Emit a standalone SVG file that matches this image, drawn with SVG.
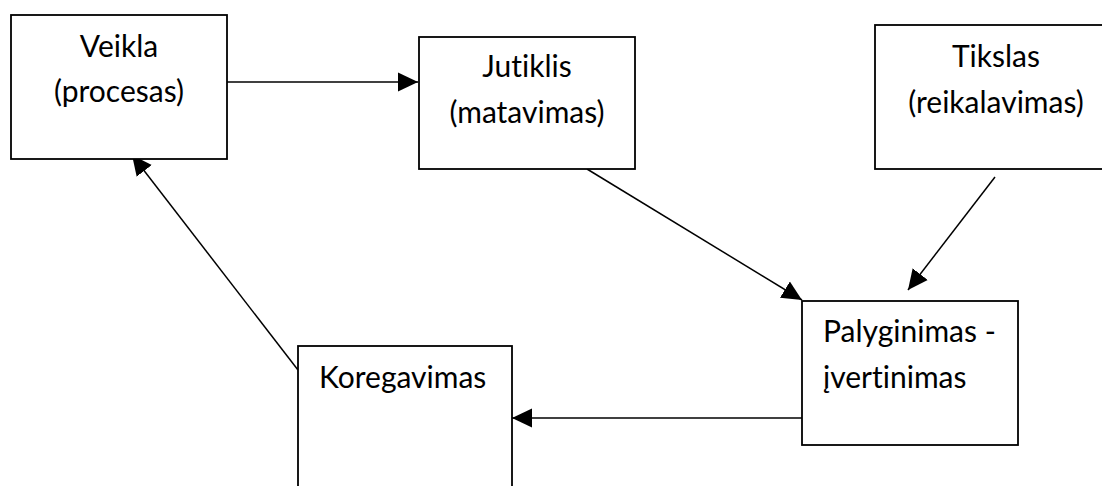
<svg xmlns="http://www.w3.org/2000/svg" width="1102" height="486" viewBox="0 0 1102 486">
  <style>
    .box { fill: #ffffff; stroke: #000000; stroke-width: 1.8; }
    .lbl { font-family: Lato, "Liberation Sans", sans-serif; font-size: 30px; fill: #000000; font-variant-ligatures: none; font-feature-settings: "liga" 0, "clig" 0; }
    .mid { text-anchor: middle; }
    .edge { stroke: #000000; stroke-width: 1.5; fill: none; marker-end: url(#head); }
  </style>
  <defs>
    <marker id="head" markerUnits="userSpaceOnUse" markerWidth="21" markerHeight="21" refX="20" refY="10" orient="auto" viewBox="0 0 21 21">
      <path d="M0,0.5 L20,10 L0,19.5 Z" fill="#000000"/>
    </marker>
  </defs>
  <rect width="1102" height="486" fill="#ffffff"/>

  <g id="connectors">
    <line class="edge" x1="227" y1="82" x2="418" y2="82"/>
    <line class="edge" x1="587" y1="169" x2="802" y2="300"/>
    <line class="edge" x1="995" y1="177" x2="908" y2="290"/>
    <line class="edge" x1="802" y1="418" x2="512" y2="418"/>
    <line class="edge" x1="298" y1="370" x2="132" y2="155"/>
  </g>

  <g id="veikla">
    <rect class="box" x="11" y="15" width="216" height="144"/>
    <text class="lbl mid" x="119" y="57">Veikla</text>
    <text class="lbl mid" x="119" y="102">(procesas)</text>
  </g>

  <g id="jutiklis">
    <rect class="box" x="419" y="37" width="216" height="132"/>
    <text class="lbl mid" x="527" y="77">Jutiklis</text>
    <text class="lbl mid" x="527" y="123">(matavimas)</text>
  </g>

  <g id="tikslas">
    <rect class="box" x="875" y="25" width="242" height="144"/>
    <text class="lbl mid" x="996" y="67">Tikslas</text>
    <text class="lbl mid" x="996" y="113">(reikalavimas)</text>
  </g>

  <g id="palyginimas">
    <rect class="box" x="802" y="301" width="216" height="144"/>
    <text class="lbl" x="823" y="342">Palyginimas -</text>
    <text class="lbl" x="823" y="388">įvertinimas</text>
  </g>

  <g id="koregavimas">
    <rect class="box" x="298" y="346" width="214" height="160"/>
    <text class="lbl" x="319" y="388">Koregavimas</text>
  </g>
</svg>
